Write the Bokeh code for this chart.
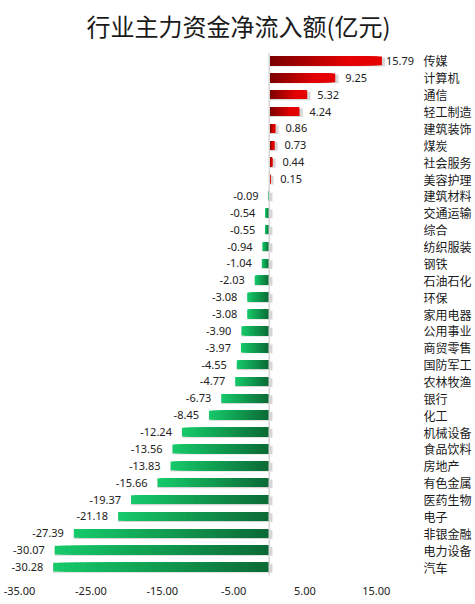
from bokeh.plotting import figure
from bokeh.models import (FactorRange, Range1d, FixedTicker, NumeralTickFormatter,
                          Span, ColumnDataSource, LabelSet)
from bokeh.transform import dodge
from bokeh.core.properties import value
from bokeh.embed import file_html
from bokeh.resources import INLINE

title_text = "行业主力资金净流入额(亿元)"
categories = ["传媒", "计算机", "通信", "轻工制造", "建筑装饰", "煤炭", "社会服务", "美容护理",
              "建筑材料", "交通运输", "综合", "纺织服装", "钢铁", "石油石化", "环保", "家用电器",
              "公用事业", "商贸零售", "国防军工", "农林牧渔", "银行", "化工", "机械设备", "食品饮料",
              "房地产", "有色金属", "医药生物", "电子", "非银金融", "电力设备", "汽车"]
values = [15.79, 9.25, 5.32, 4.24, 0.86, 0.73, 0.44, 0.15,
          -0.09, -0.54, -0.55, -0.94, -1.04, -2.03, -3.08, -3.08,
          -3.90, -3.97, -4.55, -4.77, -6.73, -8.45, -12.24, -13.56,
          -13.83, -15.66, -19.37, -21.18, -27.39, -30.07, -30.28]
x_ticks = [-35, -25, -15, -5, 5, 15]

RED_DARK, RED_BRIGHT = (0x78, 0x00, 0x00), (0xE4, 0x02, 0x02)
GREEN_DARK, GREEN_BRIGHT = (0x0C, 0x69, 0x35), (0x16, 0xCA, 0x6A)


def mix(c1, c2, t):
    t = max(0.0, min(1.0, t))
    return "#%02x%02x%02x" % tuple(int(round(a + (b - a) * t)) for a, b in zip(c1, c2))


FW, FH = 407, 523
p = figure(frame_width=FW, frame_height=FH,
           y_range=FactorRange(factors=categories[::-1]),
           x_range=Range1d(-36.55, 20.5),
           output_backend="svg", toolbar_location=None, y_axis_location="right",
           min_border_left=8, min_border_right=56, min_border_top=52, min_border_bottom=22,
           title=title_text)
p.outline_line_color = None
p.grid.visible = False
p.background_fill_color = "white"
p.border_fill_color = "white"

p.title.text_font = "Noto Sans CJK SC"
p.title.text_font_size = "24px"
p.title.text_font_style = "normal"
p.title.text_color = "#1a1a1a"
p.title.align = "left"
p.title.offset = 78
p.title.vertical_align = "top"
p.title.standoff = 15

xa = p.xaxis[0]
xa.ticker = FixedTicker(ticks=x_ticks)
xa.formatter = NumeralTickFormatter(format="0.00")
xa.axis_line_color = None
xa.major_tick_line_color = None
xa.minor_tick_line_color = None
xa.major_label_standoff = 5
xa.major_label_text_font = "Noto Sans"
xa.major_label_text_font_size = "11px"
xa.major_label_text_color = "#222222"

ya = p.yaxis[0]
ya.axis_line_color = None
ya.major_tick_line_color = None
ya.minor_tick_line_color = None
ya.major_label_standoff = 2
ya.major_label_text_font = "Noto Sans CJK SC"
ya.major_label_text_font_size = "12px"
ya.major_label_text_color = "#1a1a1a"

# shadows
sh_left = [min(0.0, v) for v in values]
sh_right = [max(0.0, v) + 0.45 for v in values]
shadow = ColumnDataSource(dict(y=categories, left=sh_left, right=sh_right))
p.hbar(y=dodge("y", -0.07, range=p.y_range), left="left", right="right", height=0.52,
       source=shadow, fill_color="#8a8a8a", fill_alpha=0.35, line_color=None)

# gradient bars: nested bars painted from the outer end inwards
K = 40
ys, ls, rs, cs = [], [], [], []
for j in range(K - 1, -1, -1):
    tm = (j + 0.5) / K
    for cat, v in zip(categories, values):
        end = v * (j + 1) / K
        ys.append(cat)
        ls.append(min(0.0, end))
        rs.append(max(0.0, end))
        if v >= 0:
            cs.append(mix(RED_DARK, RED_BRIGHT, tm / 0.7))
        else:
            cs.append(mix(GREEN_DARK, GREEN_BRIGHT, tm))
bars = ColumnDataSource(dict(y=ys, left=ls, right=rs, color=cs))
p.hbar(y="y", left="left", right="right", height=0.52, source=bars,
       fill_color="color", line_color=None)

p.add_layout(Span(location=0, dimension="height", line_color="#d6d6d6", line_width=1.5))

labels = ColumnDataSource(dict(
    y=categories, x=values,
    text=["%.2f" % v for v in values],
    xoff=[(4 if v > 12 else 10) if v >= 0 else -10 for v in values],
    align=["left" if v >= 0 else "right" for v in values],
))
p.add_layout(LabelSet(x="x", y="y", text="text", x_offset="xoff", text_align="align",
                      text_baseline="middle", source=labels,
                      text_font=value("Noto Sans"), text_font_size="11px", text_color="#222222"))

open("out.html", "w").write(file_html(p, INLINE))
